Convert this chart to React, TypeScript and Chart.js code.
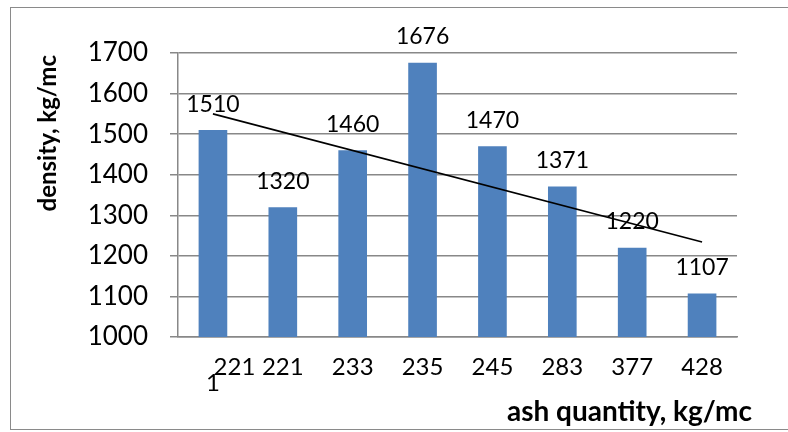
import React, { useEffect, useRef } from "react";
import { Chart, registerables } from "chart.js";

Chart.register(...registerables);

const categories = ["221", "221", "233", "235", "245", "283", "377", "428"];
const density = [1510, 1320, 1460, 1676, 1470, 1371, 1220, 1107];
const trendline = [1550, null, null, null, null, null, null, 1234];
const yMin = 1000;
const yMax = 1700;
const yStep = 100;
const yTitle = "density, kg/mc";
const xTitle = "ash quantity, kg/mc";

const FONT = "Lato";

const barLabels = {
  id: "barLabels",
  afterDatasetDraw(chart: any, args: any) {
    if (args.index !== 0) return;
    const ctx = chart.ctx;
    const meta = chart.getDatasetMeta(0);
    ctx.save();
    ctx.font = `23px ${FONT}`;
    ctx.fillStyle = "#000";
    ctx.textAlign = "center";
    ctx.textBaseline = "middle";
    meta.data.forEach((el: any, i: number) => {
      ctx.fillText(String(density[i]), el.x, el.y - 26);
    });
    ctx.restore();
  },
};

const axisTitles = {
  id: "axisTitles",
  afterDraw(chart: any) {
    const ctx = chart.ctx;
    ctx.save();
    ctx.fillStyle = "#000";
    ctx.font = `bold 24px ${FONT}`;
    ctx.textAlign = "right";
    ctx.textBaseline = "middle";
    ctx.translate(48, 55);
    ctx.rotate(-Math.PI / 2);
    ctx.fillText(yTitle, 0, 0);
    ctx.restore();

    ctx.save();
    ctx.fillStyle = "#000";
    ctx.font = `bold 28px ${FONT}`;
    ctx.textAlign = "right";
    ctx.textBaseline = "alphabetic";
    ctx.fillText(xTitle, 752, 421);
    ctx.restore();
  },
};

export default function App() {
  const ref = useRef<HTMLCanvasElement>(null);
  useEffect(() => {
    if (!ref.current) return;
    const chart = new Chart(ref.current, {
      type: "bar",
      data: {
        labels: categories,
        datasets: [
          {
            type: "bar",
            data: density,
            backgroundColor: "#4F81BD",
            barPercentage: 0.41,
            categoryPercentage: 1,
            order: 1,
          },
          {
            type: "line",
            data: trendline as any,
            borderColor: "#000",
            borderWidth: 1.6,
            pointRadius: 0,
            spanGaps: true,
            fill: false,
            order: 0,
          } as any,
        ],
      },
      options: {
        animation: false,
        responsive: false,
        devicePixelRatio: 1,
        layout: { padding: { left: 0, right: 51, top: 53, bottom: 0 } },
        plugins: {
          legend: { display: false },
          tooltip: { enabled: false },
        },
        scales: {
          x: {
            grid: { display: false, drawTicks: false },
            border: { display: true, color: "#888", width: 1.5 },
            ticks: {
              color: "#000",
              font: { family: FONT, size: 24, lineHeight: 0.68 },
              padding: 22,
              maxRotation: 0,
              autoSkip: false,
              callback: (_v: any, i: number) =>
                i === 0 ? ["       " + categories[0], "1"] : categories[i],
            },
            afterFit: (s: any) => {
              s.height = 95;
            },
          },
          y: {
            min: yMin,
            max: yMax,
            ticks: {
              stepSize: yStep,
              color: "#000",
              font: { family: FONT, size: 26 },
              padding: 22,
              callback: (v: any) => String(v),
            },
            grid: { color: "#888", lineWidth: 1.5, tickLength: 8 },
            border: { display: true, color: "#888", width: 1.5 },
            afterFit: (s: any) => {
              s.width = 178;
            },
          },
        },
      },
      plugins: [barLabels, axisTitles],
    });
    return () => chart.destroy();
  }, []);

  return (
    <>
      <div
        style={{
          position: "fixed",
          left: 10,
          top: 7,
          width: 820,
          height: 423,
          border: "1.5px solid #8a8a8a",
          boxSizing: "border-box",
        }}
      />
      <canvas
        ref={ref}
        width={788}
        height={432}
        style={{ position: "fixed", left: 0, top: 0, width: 788, height: 432 }}
      />
    </>
  );
}
